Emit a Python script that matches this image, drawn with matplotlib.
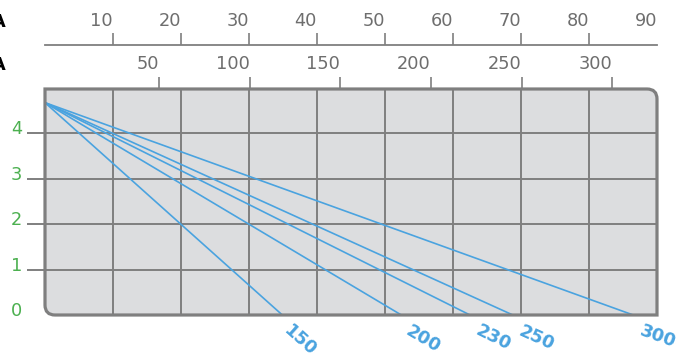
import numpy as np
import matplotlib.pyplot as plt
from matplotlib.path import Path
from matplotlib.patches import PathPatch
from matplotlib.transforms import ScaledTranslation

# data
top_ticks = [10, 20, 30, 40, 50, 60, 70, 80, 90]
amp_ticks = [50, 100, 150, 200, 250, 300]
y_ticks = [0, 1, 2, 3, 4]
series_labels = ["150", "200", "230", "250", "300"]
series_start = 4.67
series_end = [34.9, 52.4, 62.5, 68.8, 86.5]

GRAY = "#7f7f7f"
TXT = "#6e6e6e"
GREEN = "#4cb050"
BLUE = "#4aa3df"
FS = 12.8

plt.rcParams["font.family"] = "DejaVu Sans"

fig = plt.figure(figsize=(6.88, 3.54), dpi=100)
ax = fig.add_axes([45/688, 39/354, 612/688, 226/354])
ax.set_xlim(0, 90)
ax.set_ylim(0, 4.97)
ax.patch.set_visible(False)
for s in ax.spines.values():
    s.set_visible(False)

# rounded frame (bottom-left and top-right corners)
bb = ax.get_position()
wpx = bb.width * 688
hpx = bb.height * 354
r = 10
rx, ry = r / wpx, r / hpx
verts = [(0, 1), (1 - rx, 1), (1, 1), (1, 1 - ry), (1, 0), (rx, 0), (0, 0), (0, ry), (0, 1)]
codes = [Path.MOVETO, Path.LINETO, Path.CURVE3, Path.CURVE3, Path.LINETO,
         Path.LINETO, Path.CURVE3, Path.CURVE3, Path.CLOSEPOLY]
frame = Path(verts, codes)
ax.add_patch(PathPatch(frame, transform=ax.transAxes, facecolor="#dcdddf",
                       edgecolor="none", zorder=0))
ax.add_patch(PathPatch(frame, transform=ax.transAxes, facecolor="none",
                       edgecolor=GRAY, lw=2.3, zorder=5, clip_on=False))

# grid
for t in top_ticks[:-1]:
    ax.axvline(t, color=GRAY, lw=1.4, zorder=1)
for t in y_ticks[1:]:
    ax.axhline(t, color=GRAY, lw=1.4, zorder=1)

# y axis
ax.set_xticks([])
ax.set_yticks(y_ticks)
ax.set_yticklabels([str(v) for v in y_ticks])
ax.tick_params(axis="y", direction="out", length=13, width=1.4, color=GRAY,
               labelcolor=GREEN, labelsize=FS, pad=3.6)
ax.yaxis.get_major_ticks()[0].tick1line.set_visible(False)
for lab in ax.get_yticklabels():
    lab.set_transform(lab.get_transform() + ScaledTranslation(0, 4.3/72, fig.dpi_scale_trans))

# lines
for lab, xe in zip(series_labels, series_end):
    ax.plot([0, xe], [series_start, 0], color=BLUE, lw=1.2, zorder=3, solid_capstyle="butt")
    p0 = ax.transData.transform((0, series_start))
    p1 = ax.transData.transform((xe, 0))
    ang = np.degrees(np.arctan2(p1[1] - p0[1], p1[0] - p0[0]))
    ax.annotate(lab, (xe, 0), xytext=(7.5, -5), textcoords="offset points",
                rotation=ang, rotation_mode="anchor", ha="left", va="top",
                color=BLUE, fontsize=FS, fontweight="bold", annotation_clip=False)

# upper scale
sec1 = ax.secondary_xaxis(270/226)
sec1.set_xticks(top_ticks)
sec1.set_xticklabels([str(v) for v in top_ticks])
sec1.tick_params(axis="x", direction="out", length=8.6, width=1.2, color=GRAY,
                 labelcolor=TXT, labelsize=FS, pad=2)
sec1.spines["top"].set_color(GRAY)
sec1.spines["top"].set_linewidth(1.3)
sec1.xaxis.get_major_ticks()[-1].tick2line.set_visible(False)
for lab in sec1.get_xticklabels():
    lab.set_ha("right")

# second scale
sec2 = ax.secondary_xaxis("top", functions=(lambda x: (x - 3.43) * 3.75,
                                            lambda a: a / 3.75 + 3.43))
sec2.set_xticks(amp_ticks)
sec2.set_xticklabels([str(v) for v in amp_ticks])
sec2.tick_params(axis="x", direction="out", length=8.6, width=1.2, color=GRAY,
                 labelcolor=TXT, labelsize=FS, pad=3)
sec2.spines["top"].set_visible(False)
for lab in sec2.get_xticklabels():
    lab.set_ha("right")

fig.text(6/688, 1 - 22/354, "A", ha="right", va="center", fontsize=FS, fontweight="bold", color="black")
fig.text(6/688, 1 - 65/354, "A", ha="right", va="center", fontsize=FS, fontweight="bold", color="black")

fig.savefig("out.png", dpi=100)
